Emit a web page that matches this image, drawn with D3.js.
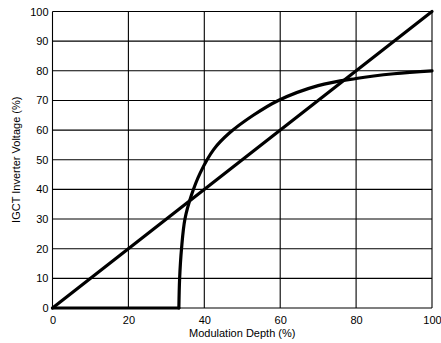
<!DOCTYPE html>
<html>
<head>
<meta charset="utf-8">
<script src="https://cdn.jsdelivr.net/npm/d3@7"></script>
<style>
  body { margin: 0; background: #fff; }
  svg { display: block; }
  text { font-family: "Liberation Sans", Arial, sans-serif; fill: #000; }
</style>
</head>
<body>
<svg id="chart" width="441" height="343"></svg>
<script>
// Modulation depth (%) vs. inverter voltage (%)
const depthTicks = [0, 20, 40, 60, 80, 100];
const voltageTicks = [0, 10, 20, 30, 40, 50, 60, 70, 80, 90, 100];

// Linear reference: voltage equals modulation depth
const linearDepth = [0, 100];
const linearVoltage = [0, 100];

// IGCT inverter voltage curve
const igctDepth   = [0, 33.3, 33.5, 34.0, 34.9, 36.6, 38.9, 42.5, 46.6, 52.9, 59.5, 70, 80,   90, 100];
const igctVoltage = [0, 0,    10,   20,   30,   38,   45.5, 53.5, 59,   65,   70,   75, 77.4, 79, 80];

const margin = { left: 52.5, top: 11.5 };
const svg = d3.select("#chart");

const x = d3.scaleLinear().domain([0, 100]).range([margin.left, 432]);
const y = d3.scaleLinear().domain([0, 100]).range([308, margin.top]);

// Grid (also forms the frame)
const g = svg.append("g");
g.selectAll("line.vg").data(depthTicks).join("line")
  .attr("x1", d => x(d)).attr("x2", d => x(d))
  .attr("y1", y(0)).attr("y2", y(100))
  .attr("stroke", "#000").attr("stroke-width", 1.1);
g.selectAll("line.hg").data(voltageTicks).join("line")
  .attr("x1", x(0)).attr("x2", x(100))
  .attr("y1", d => y(d)).attr("y2", d => y(d))
  .attr("stroke", "#000").attr("stroke-width", 1.1);

// Tick labels
const xAxis = d3.axisBottom(x).tickValues(depthTicks).tickSize(0).tickPadding(8).tickFormat(d3.format("d"));
svg.append("g").attr("transform", `translate(0,${y(0)})`).call(xAxis)
  .call(s => s.select(".domain").remove())
  .selectAll("text").attr("font-size", 11).attr("font-family", "Liberation Sans, Arial, sans-serif");

const yAxis = d3.axisLeft(y).tickValues(voltageTicks).tickSize(0).tickPadding(4).tickFormat(d3.format("d"));
svg.append("g").attr("transform", `translate(${x(0)},0)`).call(yAxis)
  .call(s => s.select(".domain").remove())
  .selectAll("text").attr("font-size", 11).attr("font-family", "Liberation Sans, Arial, sans-serif");

// Axis titles
svg.append("text")
  .attr("x", (x(0) + x(100)) / 2).attr("y", 336.5)
  .attr("text-anchor", "middle").attr("font-size", 11)
  .text("Modulation Depth (%)");
svg.append("text")
  .attr("transform", `translate(20,${(y(0) + y(100)) / 2}) rotate(-90)`)
  .attr("text-anchor", "middle").attr("font-size", 11)
  .text("IGCT Inverter Voltage (%)");

// Curves
const stroke = sel => sel.attr("fill", "none").attr("stroke", "#000")
  .attr("stroke-width", 3.2).attr("stroke-linejoin", "round").attr("stroke-linecap", "round");

const lineStraight = d3.line().x(d => x(d[0])).y(d => y(d[1]));
const lineSmooth = d3.line().x(d => x(d[0])).y(d => y(d[1])).curve(d3.curveCatmullRom.alpha(0.5));

svg.append("path")
  .datum(linearDepth.map((d, i) => [d, linearVoltage[i]]))
  .attr("d", lineStraight).call(stroke);

// Flat (zero-voltage) stretch drawn straight, rising part smoothed
const igct = igctDepth.map((d, i) => [d, igctVoltage[i]]);
const firstRise = igct.findIndex(p => p[1] > 0) - 1;
svg.append("path")
  .datum(igct.slice(0, firstRise + 1))
  .attr("d", lineStraight).call(stroke);
svg.append("path")
  .datum(igct.slice(firstRise))
  .attr("d", lineSmooth).call(stroke);
</script>
</body>
</html>
